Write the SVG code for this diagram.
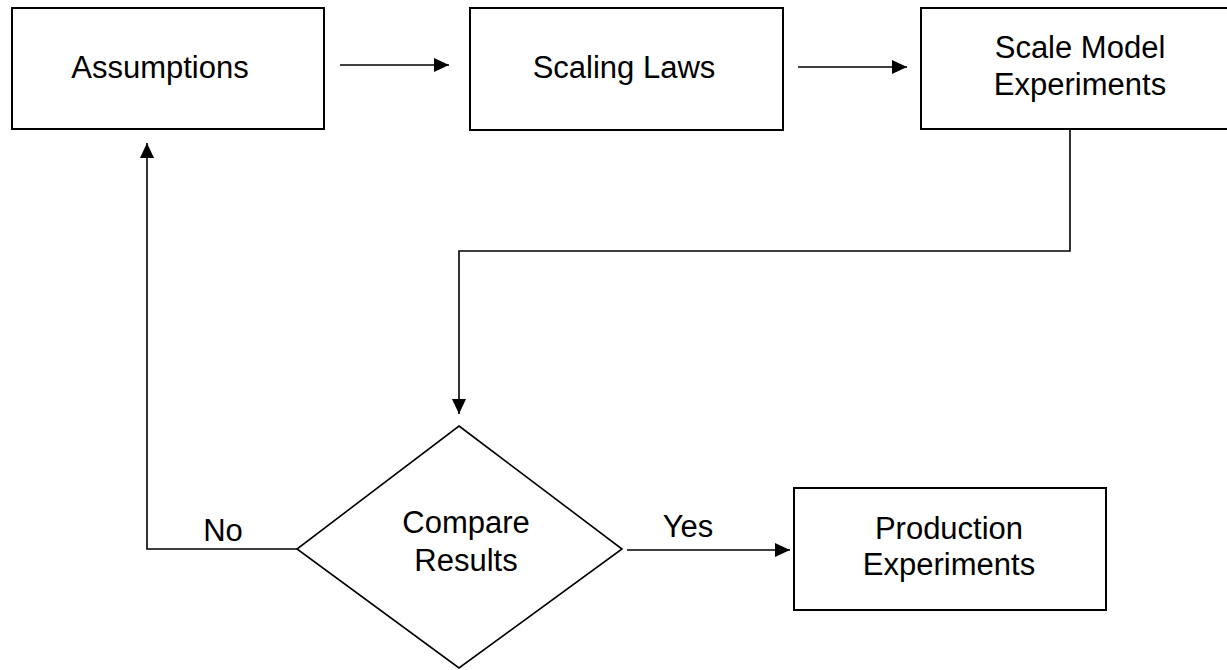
<svg xmlns="http://www.w3.org/2000/svg" width="1227" height="670" viewBox="0 0 1227 670">
<style>
.box{fill:#fff;stroke:#000;stroke-width:2}
.ln{fill:none;stroke:#000;stroke-width:1.6}
text{font-family:"Liberation Sans",Arial,sans-serif;font-size:31px;fill:#000;text-anchor:middle}
</style>
<defs>
<marker id="ah" viewBox="0 0 15 14" refX="15" refY="7" markerWidth="15" markerHeight="14" markerUnits="userSpaceOnUse" orient="auto">
<path d="M0,0 L15,7 L0,14 Z" fill="#000"/>
</marker>
</defs>
<rect width="1227" height="670" fill="#fff"/>
<g id="connectors">
<line class="ln" x1="340" y1="65" x2="449" y2="65" marker-end="url(#ah)"/>
<line class="ln" x1="798" y1="67" x2="907" y2="67" marker-end="url(#ah)"/>
<polyline class="ln" points="1070,130 1070,251 459,251 459,414" marker-end="url(#ah)"/>
<polyline class="ln" points="297,549 147,549 147,143" marker-end="url(#ah)"/>
<line class="ln" x1="627" y1="550" x2="790" y2="550" marker-end="url(#ah)"/>
<text x="223" y="541">No</text>
<text x="688" y="537">Yes</text>
</g>
<g id="assumptions">
<rect class="box" x="12" y="8" width="312" height="121"/>
<text x="160" y="78">Assumptions</text>
</g>
<g id="scaling-laws">
<rect class="box" x="470" y="8" width="313" height="122"/>
<text x="624" y="78">Scaling Laws</text>
</g>
<g id="scale-model">
<rect class="box" x="921" y="8" width="320" height="121"/>
<text x="1080" y="58">Scale Model</text>
<text x="1080" y="95">Experiments</text>
</g>
<g id="compare">
<polygon class="ln" points="459,426 622,549 459,668 297,549"/>
<text x="466" y="533">Compare</text>
<text x="466" y="571">Results</text>
</g>
<g id="production">
<rect class="box" x="794" y="488" width="312" height="122"/>
<text x="949" y="539">Production</text>
<text x="949" y="575">Experiments</text>
</g>
</svg>
